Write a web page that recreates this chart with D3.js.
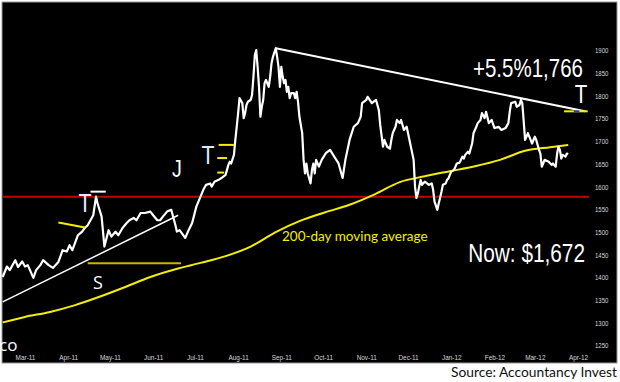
<!DOCTYPE html>
<html>
<head>
<meta charset="utf-8">
<script src="https://cdn.jsdelivr.net/npm/d3@7"></script>
<style>
body { margin: 0; background: #fff; }
svg { display: block; }
</style>
</head>
<body>
<svg></svg>
<script>
// gold price
let priceDates = [
  '2011-02-13','2011-02-16','2011-02-18','2011-02-22','2011-02-24','2011-02-27','2011-03-01','2011-03-03','2011-03-07','2011-03-09',
  '2011-03-12','2011-03-14','2011-03-18','2011-03-21','2011-03-25','2011-03-28','2011-03-31','2011-04-02','2011-04-04','2011-04-08',
  '2011-04-11','2011-04-13','2011-04-15','2011-04-19','2011-04-21','2011-04-22','2011-04-25','2011-04-27','2011-04-30','2011-05-02',
  '2011-05-05','2011-05-07','2011-05-10','2011-05-13','2011-05-15','2011-05-18','2011-05-20','2011-05-23','2011-05-26','2011-05-30',
  '2011-06-01','2011-06-04','2011-06-06','2011-06-08','2011-06-11','2011-06-14','2011-06-17','2011-06-18','2011-06-20','2011-06-24',
  '2011-06-26','2011-06-29','2011-07-02','2011-07-05','2011-07-07','2011-07-09','2011-07-12','2011-07-13','2011-07-15','2011-07-18',
  '2011-07-20','2011-07-23','2011-07-24','2011-07-25','2011-07-26','2011-07-27','2011-07-29','2011-07-30','2011-07-31','2011-08-01',
  '2011-08-02','2011-08-04','2011-08-05','2011-08-06','2011-08-07','2011-08-08','2011-08-10','2011-08-11','2011-08-12','2011-08-13',
  '2011-08-14','2011-08-15','2011-08-16','2011-08-17','2011-08-18','2011-08-19','2011-08-20','2011-08-21','2011-08-23','2011-08-24',
  '2011-08-25','2011-08-26','2011-08-28','2011-08-29','2011-08-30','2011-08-31','2011-09-01','2011-09-02','2011-09-03','2011-09-04',
  '2011-09-05','2011-09-06','2011-09-07','2011-09-08','2011-09-10','2011-09-11','2011-09-12','2011-09-13','2011-09-14','2011-09-16',
  '2011-09-17','2011-09-18','2011-09-19','2011-09-20','2011-09-22','2011-09-23','2011-09-24','2011-09-25','2011-09-26','2011-09-28',
  '2011-09-30','2011-10-03','2011-10-06','2011-10-09','2011-10-12','2011-10-15','2011-10-17','2011-10-20','2011-10-23','2011-10-26',
  '2011-10-28','2011-10-29','2011-11-01','2011-11-02','2011-11-05','2011-11-08','2011-11-10','2011-11-11','2011-11-13','2011-11-14',
  '2011-11-16','2011-11-18','2011-11-19','2011-11-20','2011-11-22','2011-11-23','2011-11-25','2011-11-26','2011-11-28','2011-11-30',
  '2011-12-02','2011-12-05','2011-12-06','2011-12-07','2011-12-08','2011-12-10','2011-12-11','2011-12-13','2011-12-16','2011-12-18',
  '2011-12-19','2011-12-20','2011-12-22','2011-12-23','2011-12-25','2011-12-26','2011-12-28','2011-12-29','2011-12-30','2011-12-31',
  '2012-01-01','2012-01-03','2012-01-04','2012-01-05','2012-01-07','2012-01-09','2012-01-10','2012-01-11','2012-01-13','2012-01-14',
  '2012-01-15','2012-01-16','2012-01-17','2012-01-19','2012-01-20','2012-01-22','2012-01-23','2012-01-25','2012-01-26','2012-01-28',
  '2012-01-30','2012-02-01','2012-02-04','2012-02-06','2012-02-09','2012-02-11','2012-02-12','2012-02-13','2012-02-16','2012-02-17',
  '2012-02-19','2012-02-20','2012-02-21','2012-02-22','2012-02-23','2012-02-24','2012-02-25','2012-02-27','2012-02-28','2012-03-01',
  '2012-03-02','2012-03-04','2012-03-05','2012-03-06','2012-03-07','2012-03-08','2012-03-11','2012-03-13','2012-03-14','2012-03-16',
  '2012-03-17','2012-03-18','2012-03-19','2012-03-20','2012-03-21','2012-03-23','2012-03-24','2012-03-25'
]
let priceValues = [
  1401,1424,1416,1438,1423,1435,1424,1427,1399,1416,
  1427,1438,1427,1421,1434,1460,1457,1471,1460,1493,
  1501,1509,1515,1537,1578,1564,1534,1468,1504,1490,
  1501,1493,1509,1520,1526,1531,1526,1542,1542,1545,
  1537,1526,1526,1534,1545,1549,1515,1501,1504,1487,
  1501,1520,1556,1578,1593,1604,1607,1600,1611,1615,
  1619,1626,1637,1648,1655,1651,1670,1703,1732,1762,
  1795,1784,1751,1762,1780,1787,1791,1802,1842,1890,
  1901,1864,1820,1754,1776,1791,1828,1835,1820,1842,
  1872,1886,1905,1886,1864,1820,1864,1842,1828,1835,
  1809,1820,1795,1806,1806,1795,1809,1787,1754,1718,
  1659,1629,1651,1629,1607,1637,1651,1629,1659,1644,
  1659,1674,1681,1666,1652,1619,1659,1703,1732,1740,
  1754,1784,1791,1798,1784,1791,1769,1736,1688,1703,
  1688,1684,1703,1718,1732,1747,1740,1747,1725,1732,
  1703,1659,1600,1575,1585,1615,1604,1611,1604,1607,
  1593,1567,1549,1563,1589,1604,1607,1615,1618,1626,
  1633,1637,1644,1651,1653,1666,1662,1670,1677,1673,
  1684,1695,1718,1732,1740,1747,1762,1751,1765,1740,
  1747,1729,1732,1725,1729,1740,1765,1784,1787,1776,
  1780,1791,1784,1745,1703,1710,1718,1703,1695,1710,
  1703,1681,1673,1644,1651,1659,1655,1648,1651,1644,
  1673,1688,1681,1662,1670,1666,1673,1672
]

// 200-day moving average
let maDates = ['2011-02-13','2011-03-01','2011-03-19','2011-04-06','2011-04-24','2011-05-12','2011-05-30','2011-06-17',
  '2011-07-05','2011-07-23','2011-08-10','2011-08-28','2011-09-14','2011-10-02','2011-10-20','2011-11-07',
  '2011-11-25','2011-12-13','2011-12-31','2012-01-18','2012-02-05','2012-02-23','2012-03-12','2012-03-25']
let maValues = [1301,1313,1324,1339,1358,1379,1401,1418,
  1432,1447,1468,1500,1524,1543,1560,1583,
  1610,1623,1634,1645,1659,1679,1687,1692]

let yTicks = [1250,1300,1350,1400,1450,1500,1550,1600,1650,1700,1750,1800,1850,1900]
let monthTicks = ['2011-03-01','2011-04-01','2011-05-01','2011-06-01','2011-07-01','2011-08-01','2011-09-01',
  '2011-10-01','2011-11-01','2011-12-01','2012-01-01','2012-02-01','2012-03-01','2012-04-01']

// annotation lines
let supportValue = 1578
let supportDates = ['2011-02-13','2012-04-09']
let upperTrendDates = ['2011-08-28','2012-04-06']
let upperTrendValues = [1905, 1766]
let lowerTrendDates = ['2011-02-13','2011-06-19']
let lowerTrendValues = [1346, 1537]
let targetDates = ['2012-03-22','2012-04-08']
let targetValue = 1766
let markDates = ['2012-03-29','2012-04-02']

let width = 620
let height = 382

let svg = d3.select('svg')
let parse = d3.timeParse('%Y-%m-%d')
let xScale
let yScale

let sans = '"Liberation Sans", Arial, sans-serif'

// squeeze small axis text, the original uses a condensed face
let narrowify = (sel, k) => {
  sel.each(function () {
    let len = this.getComputedTextLength()
    d3.select(this)
    .attr('textLength', len * k)
    .attr('lengthAdjust', 'spacingAndGlyphs')
  })
}

let generateScales = () => {
  xScale = d3.scaleTime()
  .domain([parse('2011-03-01'), parse('2012-04-01')])
  .range([25, 578])

  yScale = d3.scaleLinear()
  .domain([1250, 1900])
  .range([345.5, 50.5])
}

let drawCanvas = () => {
  svg.attr('width', width)
  svg.attr('height', height)

  svg.append('rect')
  .attr('x', 2)
  .attr('y', 2)
  .attr('width', 615)
  .attr('height', 361)
  .attr('fill', '#000')
  .attr('stroke', '#9a9a9a')
  .attr('stroke-width', 1)
}

let drawAxis = () => {
  let yAxis = d3.axisRight(yScale)
  .tickValues(yTicks)
  .tickFormat(d3.format('d'))
  .tickSize(0)
  .tickPadding(0)

  let yG = svg.append('g')
  .attr('transform', 'translate(595, 0)')
  .call(yAxis)
  yG.select('.domain').remove()
  let yText = yG.selectAll('text')
  .attr('fill', '#d8d8d8')
  .style('font-family', sans)
  .style('font-size', '7.5px')
  narrowify(yText, 0.8)

  let xAxis = d3.axisBottom(xScale)
  .tickValues(monthTicks.map(parse))
  .tickFormat(d3.timeFormat('%b-%y'))
  .tickSize(0)
  .tickPadding(0)

  let xG = svg.append('g')
  .attr('transform', 'translate(0, 354)')
  .call(xAxis)
  xG.select('.domain').remove()
  let xText = xG.selectAll('text')
  .attr('fill', '#d8d8d8')
  .style('font-family', sans)
  .style('font-size', '8px')
  narrowify(xText, 0.8)
}

let segment = (dates, values, color, w) => {
  let pts = dates.map((d, i) => [parse(d), values[i]])
  svg.append('path')
  .datum(pts)
  .attr('fill', 'none')
  .attr('stroke', color)
  .attr('stroke-width', w)
  .attr('d', d3.line().x((p) => xScale(p[0])).y((p) => yScale(p[1])))
}

let drawLines = () => {
  segment(supportDates, [supportValue, supportValue], '#c40000', 2)

  let maLine = d3.line()
  .x((i) => xScale(parse(maDates[i])))
  .y((i) => yScale(maValues[i]))
  .curve(d3.curveMonotoneX)

  svg.append('path')
  .datum(d3.range(maDates.length))
  .attr('fill', 'none')
  .attr('stroke', '#f4ef00')
  .attr('stroke-width', 2)
  .attr('d', maLine)

  segment(lowerTrendDates, lowerTrendValues, '#ffffff', 1.5)
  segment(upperTrendDates, upperTrendValues, '#ffffff', 2)

  let priceLine = d3.line()
  .x((i) => xScale(parse(priceDates[i])))
  .y((i) => yScale(priceValues[i]))

  svg.append('path')
  .datum(d3.range(priceDates.length))
  .attr('fill', 'none')
  .attr('stroke', '#ffffff')
  .attr('stroke-width', 2.2)
  .attr('stroke-linejoin', 'round')
  .attr('d', priceLine)

  // small markers
  segment(targetDates, [targetValue, targetValue], '#f4ef00', 2)
  segment(markDates, [targetValue, targetValue], '#2030ff', 2)
  segment(['2011-03-25','2011-04-13'], [1521, 1510], '#f4ef00', 2)
  segment(['2011-04-15','2011-06-21'], [1431, 1431], '#d4b000', 2)
  segment(['2011-04-17','2011-04-28'], [1589, 1589], '#ffffff', 2)
  segment(['2011-07-18','2011-07-29'], [1692, 1692], '#f4ef00', 2)
  segment(['2011-07-17','2011-07-24'], [1663, 1663], '#f4ef00', 2)
  segment(['2011-07-17','2011-07-22'], [1631, 1631], '#f4ef00', 2)
}

let drawText = () => {
  let label = (x, y, txt, size, color, anchor, family, k) => {
    svg.append('text')
    .attr('transform', 'translate(' + x + ',' + y + ') scale(' + (k || 1) + ',1)')
    .attr('fill', color)
    .attr('text-anchor', anchor)
    .style('font-family', family)
    .style('font-size', size + 'px')
    .text(txt)
  }

  label(583, 77, '+5.5%1,766', 25, '#ffffff', 'end', sans, 0.82)
  label(581, 103, 'T', 25, '#ffffff', 'middle', sans, 0.82)
  label(585, 262, 'Now: $1,672', 26, '#ffffff', 'end', sans, 0.8)
  label(282, 241, '200-day moving average', 13.5, '#f4ef00', 'start', 'Lato, sans-serif')
  label(85, 212, 'T', 26, '#dfe9ff', 'middle', sans, 0.82)
  label(208, 164, 'T', 26, '#dfe9ff', 'middle', sans, 0.82)
  label(177, 177, 'J', 24, '#ffffff', 'middle', sans, 0.82)
  label(98, 289, 'S', 18, '#ffffff', 'middle', '"Open Sans", sans-serif')
  label(-1, 351, 'co', 17, '#ffffff', 'start', '"Open Sans", sans-serif')
  label(617, 377, 'Source: Accountancy Invest', 13.8, '#111111', 'end', 'Lato, sans-serif')
}

generateScales()
drawCanvas()
drawLines()
drawAxis()
drawText()
</script>
</body>
</html>
